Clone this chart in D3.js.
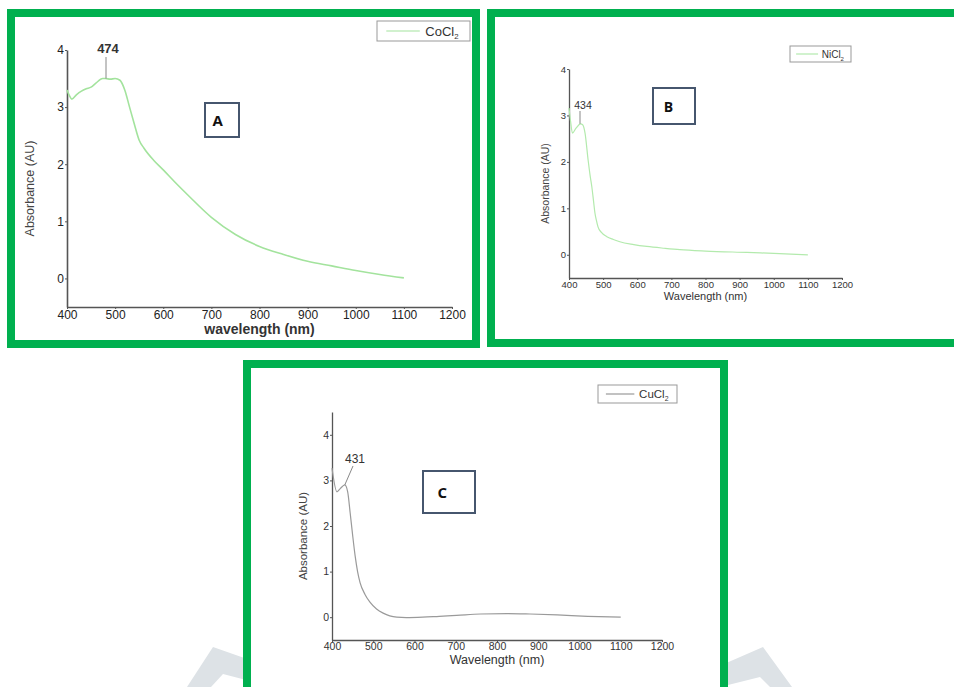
<!DOCTYPE html>
<html>
<head>
<meta charset="utf-8">
<script src="https://cdn.jsdelivr.net/npm/d3@7"></script>
<style>
  html, body { margin: 0; padding: 0; background: #fff; }
  svg { display: block; }
  text { font-family: "Liberation Sans", Arial, sans-serif; }
</style>
</head>
<body>
<svg id="chart" width="954" height="687" viewBox="0 0 954 687"></svg>
<script>
// CoCl2 (panel A)
const wlA = [400, 405, 410, 420, 430, 440, 450, 460, 474, 480, 490, 500, 510, 520, 530, 540, 550, 560, 580, 600, 625, 650, 700, 750, 800, 850, 900, 950, 1000, 1050, 1100];
const absA = [3.3, 3.2, 3.14, 3.22, 3.28, 3.32, 3.35, 3.42, 3.5, 3.5, 3.49, 3.5, 3.47, 3.3, 3.0, 2.7, 2.42, 2.28, 2.07, 1.9, 1.68, 1.47, 1.07, 0.77, 0.56, 0.42, 0.3, 0.22, 0.14, 0.07, 0.01];

// NiCl2 (panel B)
const wlB = [400, 405, 410, 420, 434, 440, 447, 456, 462, 467, 472, 476, 480, 485, 495, 511, 530, 549, 590, 628, 680, 725, 800, 921, 1000, 1100];
const absB = [3.16, 2.85, 2.62, 2.72, 2.82, 2.8, 2.62, 2.04, 1.7, 1.46, 1.15, 0.9, 0.75, 0.6, 0.48, 0.39, 0.33, 0.28, 0.22, 0.18, 0.14, 0.11, 0.08, 0.05, 0.03, 0.0];

// CuCl2 (panel C)
const wlC = [400, 412, 420, 431, 438, 444, 450, 456, 462, 468, 480, 492, 508, 524, 540, 557, 580, 620, 660, 702, 760, 825, 880, 946, 1020, 1100];
const absC = [3.27, 2.75, 2.82, 2.9, 2.75, 2.29, 1.8, 1.35, 1.0, 0.76, 0.5, 0.33, 0.18, 0.09, 0.03, 0.0, -0.01, 0.0, 0.02, 0.04, 0.07, 0.08, 0.07, 0.05, 0.02, 0.0];

const xTicks = [400, 500, 600, 700, 800, 900, 1000, 1100, 1200];
const yTicks = [0, 1, 2, 3, 4];

const panels = [
  {
    letter: "A", salt: "CoCl", wl: wlA, abs: absA, peak: 474, peakLabel: "474",
    xLabel: "wavelength (nm)", yLabel: "Absorbance (AU)",
    color: "#a3e39d", width: 1.6,
    frame: [11, 13, 465, 331],
    x0: 67, x1: 452, yTop: 50, yBot: 307, yMax: 4,
    tickFont: 12, tickColor: "#222", xLabelFont: 14, xLabelBold: true, yLabelFont: 12.5, yLabelX: 34,
    xLabelY: 334, legend: [377, 21, 93, 20], legendFont: 13,
    box: [205, 103, 34, 34], boxFont: 15,
    annot: { tx: 108, ty: 53, x1: 106, y1: 57, x2: 106, font: 13, bold: true }
  },
  {
    letter: "B", salt: "NiCl", wl: wlB, abs: absB, peak: 434, peakLabel: "434",
    xLabel: "Wavelength (nm)", yLabel: "Absorbance (AU)",
    color: "#b3eaad", width: 1.2,
    frame: [491, 13, 500, 330],
    x0: 569, x1: 842, yTop: 69, yBot: 278, yMax: 4,
    tickFont: 9.5, tickColor: "#333", xLabelFont: 11, xLabelBold: false, yLabelFont: 10.5, yLabelX: 549,
    xLabelY: 300, legend: [790, 46, 61, 16], legendFont: 10,
    box: [653, 88, 42, 36], boxFont: 14,
    annot: { tx: 583, ty: 109, x1: 580, y1: 111, x2: 580, font: 10.5, bold: false }
  },
  {
    letter: "C", salt: "CuCl", wl: wlC, abs: absC, peak: 431, peakLabel: "431",
    xLabel: "Wavelength (nm)", yLabel: "Absorbance (AU)",
    color: "#9a9a9a", width: 1.2,
    frame: [247, 364, 477, 330],
    x0: 332, x1: 662, yTop: 412, yBot: 640, yMax: 4.5,
    tickFont: 10.5, tickColor: "#333", xLabelFont: 12.5, xLabelBold: false, yLabelFont: 11.5, yLabelX: 307,
    xLabelY: 664, legend: [598, 385, 79, 18], legendFont: 11.5,
    box: [423, 471, 52, 42], boxFont: 15,
    annot: { tx: 355, ty: 463, x1: 353, y1: 466, x2: null, font: 12, bold: false }
  }
];

const svg = d3.select("#chart");

// faint watermark shapes behind the bottom panel
const wm = svg.append("g").attr("fill", "#dde2e6");
wm.append("polygon").attr("points", "187,687 213,647 250,660 250,681 223,674 211,687");
wm.append("polygon").attr("points", "724,664 763,647 792,687 770,687 760,677 724,686");

function drawPanel(p) {
  const g = svg.append("g");

  // green frame
  g.append("rect")
    .attr("x", p.frame[0]).attr("y", p.frame[1])
    .attr("width", p.frame[2]).attr("height", p.frame[3])
    .attr("fill", "#fff").attr("stroke", "#00b04f").attr("stroke-width", 8);

  const x = d3.scaleLinear().domain([400, 1200]).range([p.x0, p.x1]);
  const y = d3.scaleLinear().domain([-0.5, p.yMax]).range([p.yBot, p.yTop]);

  // axes
  const xAxis = g.append("g")
    .attr("transform", `translate(0,${p.yBot})`)
    .call(d3.axisBottom(x).tickValues(xTicks).tickFormat(d3.format("d"))
      .tickSize(2).tickSizeOuter(0).tickPadding(1));
  const yAxis = g.append("g")
    .attr("transform", `translate(${p.x0},0)`)
    .call(d3.axisLeft(y).tickValues(yTicks).tickFormat(d3.format("d"))
      .tickSize(2).tickSizeOuter(0).tickPadding(1));

  [xAxis, yAxis].forEach(a => {
    a.select(".domain").attr("stroke", "#555").attr("stroke-width", p.letter === "A" ? 1.6 : 1.3);
    a.selectAll(".tick line").attr("stroke", "#555");
    a.selectAll(".tick text")
      .attr("fill", p.tickColor)
      .style("font-family", "'Liberation Sans', Arial, sans-serif")
      .style("font-size", p.tickFont + "px");
  });

  // axis titles
  g.append("text")
    .attr("x", (p.x0 + p.x1) / 2).attr("y", p.xLabelY)
    .attr("text-anchor", "middle")
    .attr("fill", "#333")
    .style("font-size", p.xLabelFont + "px")
    .style("font-weight", p.xLabelBold ? "bold" : "normal")
    .text(p.xLabel);
  g.append("text")
    .attr("transform", `translate(${p.yLabelX},${(p.yTop + p.yBot) / 2 + 10}) rotate(-90)`)
    .attr("text-anchor", "middle")
    .attr("fill", "#444")
    .style("font-size", p.yLabelFont + "px")
    .text(p.yLabel);

  // spectrum
  const pts = p.wl.map((w, i) => [w, p.abs[i]]);
  g.append("path")
    .datum(pts)
    .attr("fill", "none")
    .attr("stroke", p.color)
    .attr("stroke-width", p.width)
    .attr("d", d3.line().x(d => x(d[0])).y(d => y(d[1])).curve(d3.curveMonotoneX));

  // peak annotation
  const peakVal = p.abs[p.wl.indexOf(p.peak)];
  const a = p.annot;
  g.append("line")
    .attr("x1", a.x1).attr("y1", a.y1)
    .attr("x2", a.x2 === null ? x(p.peak) : a.x2).attr("y2", y(peakVal))
    .attr("stroke", "#888").attr("stroke-width", 1);
  g.append("text")
    .attr("x", a.tx).attr("y", a.ty)
    .attr("text-anchor", "middle")
    .attr("fill", "#333")
    .style("font-size", a.font + "px")
    .style("font-weight", a.bold ? "bold" : "normal")
    .text(p.peakLabel);

  // legend
  const L = p.legend;
  g.append("rect")
    .attr("x", L[0]).attr("y", L[1]).attr("width", L[2]).attr("height", L[3])
    .attr("fill", "#fff").attr("stroke", "#999").attr("stroke-width", 1);
  g.append("line")
    .attr("x1", L[0] + L[2] * 0.1).attr("x2", L[0] + L[2] * 0.46)
    .attr("y1", L[1] + L[3] / 2).attr("y2", L[1] + L[3] / 2)
    .attr("stroke", p.color).attr("stroke-width", 1.2);
  const lt = g.append("text")
    .attr("x", L[0] + L[2] * 0.52).attr("y", L[1] + L[3] / 2 + p.legendFont * 0.35)
    .attr("fill", "#333")
    .style("font-size", p.legendFont + "px");
  lt.append("tspan").text(p.salt);
  lt.append("tspan").attr("dy", p.legendFont * 0.3).style("font-size", (p.legendFont * 0.6) + "px").text("2");

  // panel letter box
  const B = p.box;
  g.append("rect")
    .attr("x", B[0]).attr("y", B[1]).attr("width", B[2]).attr("height", B[3])
    .attr("fill", "#fff").attr("stroke", "#46566e").attr("stroke-width", 2);
  g.append("text")
    .attr("x", B[0] + B[2] * 0.37).attr("y", B[1] + B[3] * 0.5)
    .attr("text-anchor", "middle").attr("dominant-baseline", "central")
    .attr("fill", "#111")
    .style("font-family", "'Open Sans', 'Liberation Sans', sans-serif")
    .style("font-weight", "bold")
    .style("font-size", p.boxFont + "px")
    .text(p.letter);
}

panels.forEach(drawPanel);
</script>
</body>
</html>
